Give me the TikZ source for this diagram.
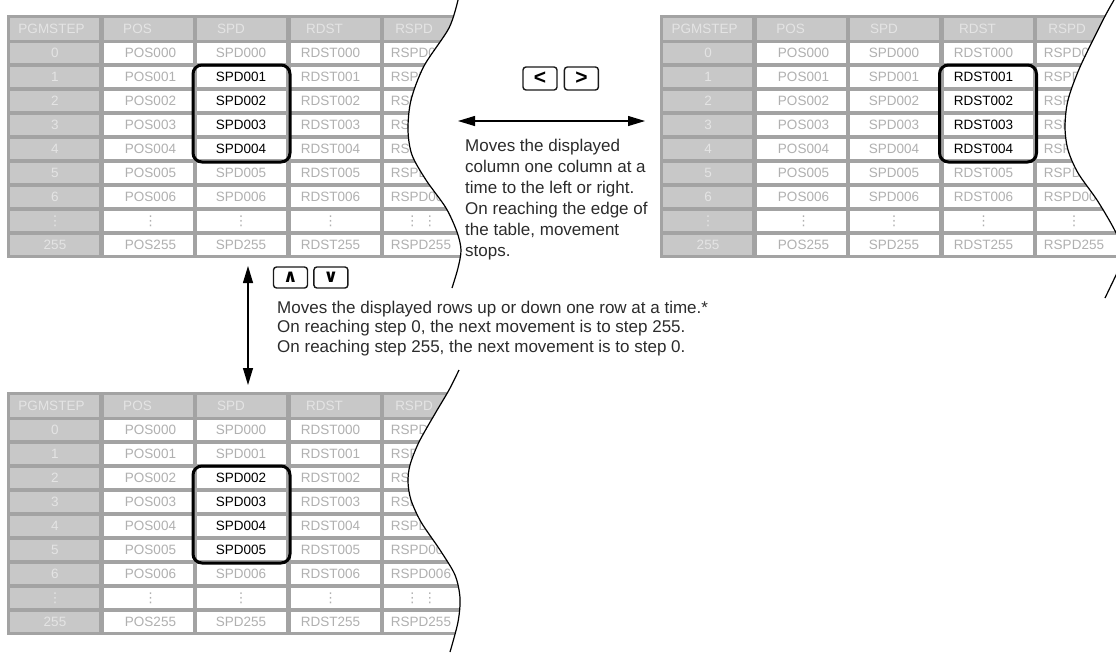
\documentclass[tikz,border=0pt]{standalone}
\usepackage{fontspec}
\setmainfont{Liberation Sans}
\newfontfamily\symfont{DejaVu Sans}
\usepackage{tikz}
\usetikzlibrary{arrows.meta,positioning}

\definecolor{gridgray}{HTML}{A3A3A3}
\definecolor{cellgray}{HTML}{C8C8C8}
\definecolor{inkgray}{HTML}{B0B0B0}
\definecolor{palegray}{HTML}{E4E4E4}
\definecolor{notegray}{HTML}{2B2B2B}

\newcommand{\rowdots}{{\symfont ⋮}}

% program table: #1 name, #2,#3 top left, #4 marked column, #5 first marked row, #6 dots in last column
\newcommand{\pgmtable}[6]{%
  \fill[gridgray] (#2,#3) rectangle ++(480,243);
  \foreach \head/\hx [count=\c from 0] in {PGMSTEP/41.5,POS/34,SPD/34,RDST/34,RSPD/30}{
    \fill[cellgray] (#2+3+93.5*\c,#3+3) rectangle ++(89,22);
    \node[headtext] (#1-head\c) at (#2+3+93.5*\c+\hx,#3+14) {\head};
  }
  \foreach \code/\stepno [count=\r from 0] in {000/0,001/1,002/2,003/3,004/4,005/5,006/6,dots/dots,255/255}{
    \fill[cellgray] (#2+3,#3+28+24*\r) rectangle ++(89,20);
    \node[steptext] (#1-step\r) at (#2+48,#3+38+24*\r) {\ifnum\r=7 \rowdots\else\stepno\fi};
    \foreach \col/\dx [count=\c from 1] in {POS/47,SPD/44,RDST/40,RSPD/37}{
      \fill[white] (#2+3+93.5*\c,#3+28+24*\r) rectangle ++(89,20);
      \def\ink{inkgray}
      \ifnum\c=#4 \ifnum\r<#5 \else\ifnum\r>\numexpr#5+3\relax\else\def\ink{black}\fi\fi\fi
      \node[celltext,text=\ink] (#1-\r-\c) at (#2+3+93.5*\c+\dx,#3+38+24*\r)
        {\ifnum\r=7 \ifnum\c=4 #6\else\rowdots\fi\else\col\code\fi};
    }
  }
  \draw[markbox] (#2+3+93.5*#4-4,#3+26+24*#5) rectangle ++(97,97);
}

\begin{document}
\begin{tikzpicture}[x=1pt,y=-1pt,
    headtext/.style={text=palegray,font=\fontsize{13.5}{16}\selectfont,inner sep=0pt},
    steptext/.style={text=palegray,font=\fontsize{13.5}{16}\selectfont,inner sep=0pt},
    celltext/.style={font=\fontsize{13.5}{16}\selectfont,inner sep=0pt},
    markbox/.style={draw=black,line width=3pt,rounded corners=9pt},
    wave/.style={draw=black,line width=1.2pt},
    dblarrow/.style={arrows={Triangle[length=17pt,width=10pt]-Triangle[length=17pt,width=10pt]},line width=1.1pt},
    keybox/.style={draw=black!90,line width=1.4pt,rounded corners=3pt,minimum width=34pt,minimum height=23pt,inner sep=0pt},
    note/.style={align=left,inner sep=0pt,text=notegray,anchor=base west}
  ]
  \useasboundingbox (0,0) rectangle (1116,657);

  % top left table
  \begin{scope}
    \clip (0,0) -- plot[smooth] coordinates {(458,0) (449,28) (424,66) (411,100) (408,130) (412,155) (426,180) (446,208) (457,232) (461,250) (458,268) (452,288)} -- (0,300) -- cycle;
    \pgmtable{tl}{7}{15}{2}{1}{\rowdots\hspace{4pt}\rowdots}
  \end{scope}
  \draw[wave] plot[smooth] coordinates {(458,0) (449,28) (424,66) (411,100) (408,130) (412,155) (426,180) (446,208) (457,232) (461,250) (458,268) (452,288)};

  % top right table
  \begin{scope}
    \clip (640,0) -- plot[smooth] coordinates {(1114,0) (1103,20) (1080,67) (1068,100) (1065,127) (1068,150) (1078,173) (1097,200) (1113,227) (1121,245) (1122,262) (1117,273) (1105,298)} -- (640,310) -- cycle;
    \pgmtable{tr}{660}{15}{3}{1}{\rowdots}
  \end{scope}
  \draw[wave] plot[smooth] coordinates {(1114,0) (1103,20) (1080,67) (1068,100) (1065,127) (1068,150) (1078,173) (1097,200) (1113,227) (1121,245) (1122,262) (1117,273) (1105,298)};

  % bottom table
  \begin{scope}
    \clip (0,370) -- plot[smooth] coordinates {(459,370) (449,390) (436,412) (419,442) (410,465) (408,482) (411,500) (421,522) (440,550) (455,575) (460,598) (458,622) (450,652)} -- (0,657) -- cycle;
    \pgmtable{bl}{7}{392}{2}{2}{\rowdots\hspace{4pt}\rowdots}
  \end{scope}
  \draw[wave] plot[smooth] coordinates {(459,370) (449,390) (436,412) (419,442) (410,465) (408,482) (411,500) (421,522) (440,550) (455,575) (460,598) (458,622) (450,652)};

  % column keys
  \node[keybox] (keyleft) at (540,78.5) {\fontsize{21}{21}\selectfont\bfseries <};
  \node[keybox,right=6pt of keyleft] (keyright) {\fontsize{21}{21}\selectfont\bfseries >};
  \coordinate (colleft) at (458,121);
  \coordinate (colright) at (645,121);
  \draw[dblarrow] (colleft) -- (colright);
  \node[note,font=\fontsize{17}{21}\selectfont] (coltext) at (465,256)
    {Moves the displayed\\column one column at a\\time to the left or right.\\On reaching the edge of\\the table, movement\\stops.};

  % row keys
  \node[keybox,minimum height=21pt] (keyup) at (290.5,277.5) {\symfont\fontsize{18}{18}\selectfont\bfseries ∧};
  \node[keybox,minimum height=21pt,right=5pt of keyup] (keydown) {\symfont\fontsize{18}{18}\selectfont\bfseries ∨};
  \coordinate (rowtop) at (248,266);
  \coordinate (rowbottom) at (248,385);
  \draw[dblarrow] (rowtop) -- (rowbottom);
  \node[note,font=\fontsize{17}{19.5}\selectfont] (rowtext) at (277,352)
    {Moves the displayed rows up or down one row at a time.*\\On reaching step 0, the next movement is to step 255.\\On reaching step 255, the next movement is to step 0.};
\end{tikzpicture}
\end{document}
